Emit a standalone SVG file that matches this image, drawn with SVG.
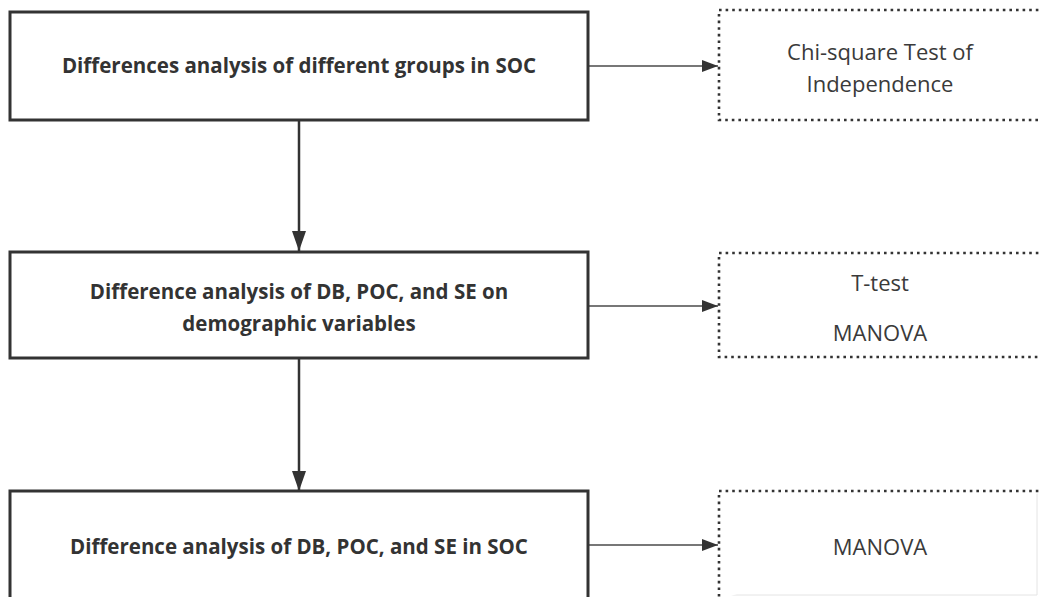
<svg xmlns="http://www.w3.org/2000/svg" width="1039" height="597" viewBox="0 0 1039 597">
  <style>
    .step { fill: #ffffff; stroke: #333333; stroke-width: 3; }
    .method { fill: #ffffff; stroke: #333333; stroke-width: 2.6; stroke-dasharray: 2.6 4; }
    .edge { fill: none; stroke: #4a4a4a; stroke-width: 1.6; }
    .trunk { fill: none; stroke: #333333; stroke-width: 2.5; }
    .label-b { font-family: "Open Sans", "Noto Sans", "Liberation Sans", sans-serif; font-weight: 700; font-size: 20.5px; fill: #333333; text-anchor: middle; }
    .label { font-family: "Open Sans", "Noto Sans", "Liberation Sans", sans-serif; font-size: 22px; fill: #3a3a3a; text-anchor: middle; }
    .rim { stroke: #e4e4e4; stroke-width: 1; }
  </style>
  <defs>
    <marker id="arrow" markerWidth="16" markerHeight="12" refX="16" refY="6" orient="auto" markerUnits="userSpaceOnUse">
      <path d="M0,0 L16,6 L0,12 Z" fill="#333333"/>
    </marker>
    <marker id="arrow-lg" markerWidth="20" markerHeight="14" refX="20" refY="7" orient="auto" markerUnits="userSpaceOnUse">
      <path d="M0,0 L20,7 L0,14 Z" fill="#333333"/>
    </marker>
  </defs>
  <rect width="1039" height="597" fill="#ffffff"/>

  <!-- connectors -->
  <g id="connectors">
    <line class="trunk" x1="299" y1="120" x2="299" y2="251" marker-end="url(#arrow-lg)"/>
    <line class="trunk" x1="299" y1="358" x2="299" y2="491" marker-end="url(#arrow-lg)"/>
    <line class="edge" x1="588" y1="66" x2="718" y2="66" marker-end="url(#arrow)"/>
    <line class="edge" x1="588" y1="306" x2="718" y2="306" marker-end="url(#arrow)"/>
    <line class="edge" x1="588" y1="545" x2="718" y2="545" marker-end="url(#arrow)"/>
  </g>

  <!-- analysis steps -->
  <g id="step1">
    <rect class="step" x="10" y="12" width="578" height="108"/>
    <text class="label-b" x="299" y="73">Differences analysis of different groups in SOC</text>
  </g>
  <g id="step2">
    <rect class="step" x="10" y="252" width="578" height="106"/>
    <text class="label-b" x="299" y="299">Difference analysis of DB, POC, and SE on</text>
    <text class="label-b" x="299" y="331">demographic variables</text>
  </g>
  <g id="step3">
    <rect class="step" x="10" y="491" width="578" height="112"/>
    <text class="label-b" x="299" y="554">Difference analysis of DB, POC, and SE in SOC</text>
  </g>

  <!-- statistical methods -->
  <g id="method1">
    <line class="rim" x1="1037" y1="11" x2="1037" y2="119"/>
    <path class="method" d="M1045,10 H719 V120 H1045"/>
    <text class="label" x="880" y="60">Chi-square Test of</text>
    <text class="label" x="880" y="92">Independence</text>
  </g>
  <g id="method2">
    <line class="rim" x1="1037" y1="254" x2="1037" y2="356"/>
    <path class="method" d="M1045,253 H719 V357 H1045"/>
    <text class="label" x="880" y="291">T-test</text>
    <text class="label" x="880" y="341">MANOVA</text>
  </g>
  <g id="method3">
    <line class="rim" x1="1037" y1="492" x2="1037" y2="595"/>
    <line class="rim" x1="720" y1="595" x2="1037" y2="595"/>
    <path class="method" d="M1045,491 H719 V600"/>
    <text class="label" x="880" y="555">MANOVA</text>
  </g>
</svg>
